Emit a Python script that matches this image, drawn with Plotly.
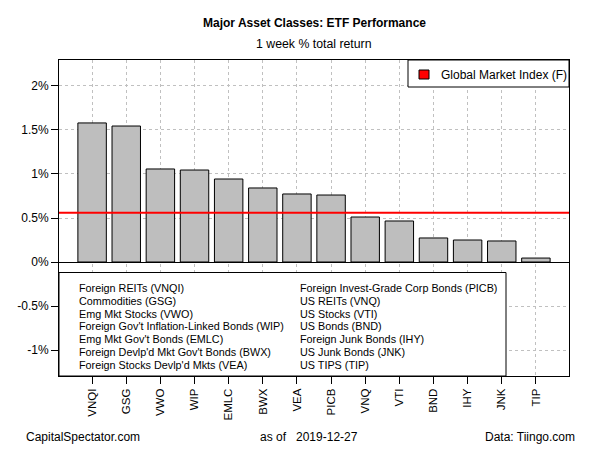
import plotly.graph_objects as go

# ---- data ----
tickers = ["VNQI", "GSG", "VWO", "WIP", "EMLC", "BWX", "VEA", "PICB",
           "VNQ", "VTI", "BND", "IHY", "JNK", "TIP"]
returns = [1.58, 1.545, 1.057, 1.045, 0.943, 0.841, 0.773, 0.761,
           0.511, 0.466, 0.273, 0.250, 0.239, 0.045]
gmi_value = 0.56
gmi_label = "Global Market Index (F)"
legend_left = ["Foreign REITs (VNQI)", "Commodities (GSG)", "Emg Mkt Stocks (VWO)",
               "Foreign Gov't Inflation-Linked Bonds (WIP)", "Emg Mkt Gov't Bonds (EMLC)",
               "Foreign Devlp'd Mkt Gov't Bonds (BWX)", "Foreign Stocks Devlp'd Mkts (VEA)"]
legend_right = ["Foreign Invest-Grade Corp Bonds (PICB)", "US REITs (VNQ)", "US Stocks (VTI)",
                "US Bonds (BND)", "Foreign Junk Bonds (IHY)", "US Junk Bonds (JNK)",
                "US TIPS (TIP)"]
y_tickvals = [-1, -0.5, 0, 0.5, 1, 1.5, 2]
y_ticktext = ["-1%", "-0.5%", "0%", "0.5%", "1%", "1.5%", "2%"]
title = "Major Asset Classes: ETF Performance"
subtitle = "1 week % total return"
footer_left = "CapitalSpectator.com"
footer_mid = "as of   2019-12-27"
footer_right = "Data: Tiingo.com"

# ---- geometry ----
W, H = 600, 450
L, R, T, B = 59, 569, 60, 376
FONT = "Liberation Sans, Arial, sans-serif"

def px(xp):
    return (xp - L) / (R - L)

def py(yp):
    return (B - yp) / (B - T)

xs = list(range(len(tickers)))

fig = go.Figure()
fig.add_trace(go.Bar(
    x=xs, y=returns, width=0.833,
    marker=dict(color="#BEBEBE", line=dict(color="black", width=1)),
    showlegend=False, hoverinfo="skip"))

shapes = []
shapes.append(dict(type="line", xref="paper", yref="y", x0=0, x1=1,
                   y0=gmi_value, y1=gmi_value, line=dict(color="red", width=2),
                   layer="above"))
shapes.append(dict(type="rect", xref="paper", yref="paper",
                   x0=0, x1=px(506), y0=0, y1=py(272.5),
                   fillcolor="white", line=dict(color="black", width=1), layer="above"))
shapes.append(dict(type="rect", xref="paper", yref="paper",
                   x0=px(408), x1=1, y0=py(87), y1=1,
                   fillcolor="white", line=dict(color="black", width=1), layer="above"))
shapes.append(dict(type="rect", xref="paper", yref="paper",
                   x0=px(419), x1=px(429), y0=py(79), y1=py(70),
                   fillcolor="red", line=dict(color="black", width=1), layer="above"))

ann = []
ann.append(dict(text="<b>" + title + "</b>", x=px(314), y=py(23), xref="paper", yref="paper",
                showarrow=False, font=dict(size=12, family=FONT, color="black"),
                xanchor="center", yanchor="middle"))
ann.append(dict(text=subtitle, x=px(314), y=py(44), xref="paper", yref="paper",
                showarrow=False, font=dict(size=12.3, family=FONT, color="black"),
                xanchor="center", yanchor="middle"))
ann.append(dict(text=gmi_label, x=px(439), y=py(74.5), xref="paper", yref="paper",
                showarrow=False, font=dict(size=12, family=FONT, color="black"),
                xanchor="left", yanchor="middle"))
for i, t in enumerate(legend_left):
    ann.append(dict(text=t, x=px(77), y=py(287.7 + 12.9 * i), xref="paper", yref="paper",
                    showarrow=False, font=dict(size=10.8, family=FONT, color="black"),
                    xanchor="left", yanchor="middle"))
for i, t in enumerate(legend_right):
    ann.append(dict(text=t, x=px(298), y=py(287.7 + 12.9 * i), xref="paper", yref="paper",
                    showarrow=False, font=dict(size=10.8, family=FONT, color="black"),
                    xanchor="left", yanchor="middle"))
ann.append(dict(text=footer_left, x=px(24), y=py(437), xref="paper", yref="paper",
                showarrow=False, font=dict(size=12, family=FONT, color="black"),
                xanchor="left", yanchor="middle"))
ann.append(dict(text=footer_mid, x=px(309), y=py(437), xref="paper", yref="paper",
                showarrow=False, font=dict(size=12, family=FONT, color="black"),
                xanchor="center", yanchor="middle"))
ann.append(dict(text=footer_right, x=px(577), y=py(437), xref="paper", yref="paper",
                showarrow=False, font=dict(size=12, family=FONT, color="black"),
                xanchor="right", yanchor="middle"))

fig.update_layout(
    width=W, height=H,
    margin=dict(l=L, r=W - R, t=T, b=H - B, pad=0),
    paper_bgcolor="white", plot_bgcolor="white",
    font=dict(family=FONT, size=12, color="black"),
    shapes=shapes, annotations=ann, bargap=0,
    xaxis=dict(range=[-0.97, len(tickers) - 1 + 0.97], tickmode="array",
               tickvals=xs, ticktext=tickers, tickangle=-90,
               ticks="outside", ticklen=7, tickcolor="black",
               showgrid=True, gridcolor="#C0C0C0", griddash="dot", gridwidth=1,
               showline=True, linecolor="black", linewidth=1, mirror=True,
               zeroline=False, tickfont=dict(size=11.5)),
    yaxis=dict(range=[-1.295, 2.295], tickmode="array",
               tickvals=y_tickvals, ticktext=y_ticktext,
               ticks="outside", ticklen=7, tickcolor="black",
               showgrid=True, gridcolor="#C0C0C0", griddash="dot", gridwidth=1,
               showline=True, linecolor="black", linewidth=1, mirror=True,
               zeroline=True, zerolinecolor="black", zerolinewidth=1,
               tickfont=dict(size=12)),
)

fig.write_html("out.html", config={"displayModeBar": False, "staticPlot": True})
with open("out.html", "r", encoding="utf-8") as f:
    html = f.read()
html = html.replace("<head>", "<head><style>html,body{margin:0;padding:0;overflow:hidden;}</style>", 1)
with open("out.html", "w", encoding="utf-8") as f:
    f.write(html)
